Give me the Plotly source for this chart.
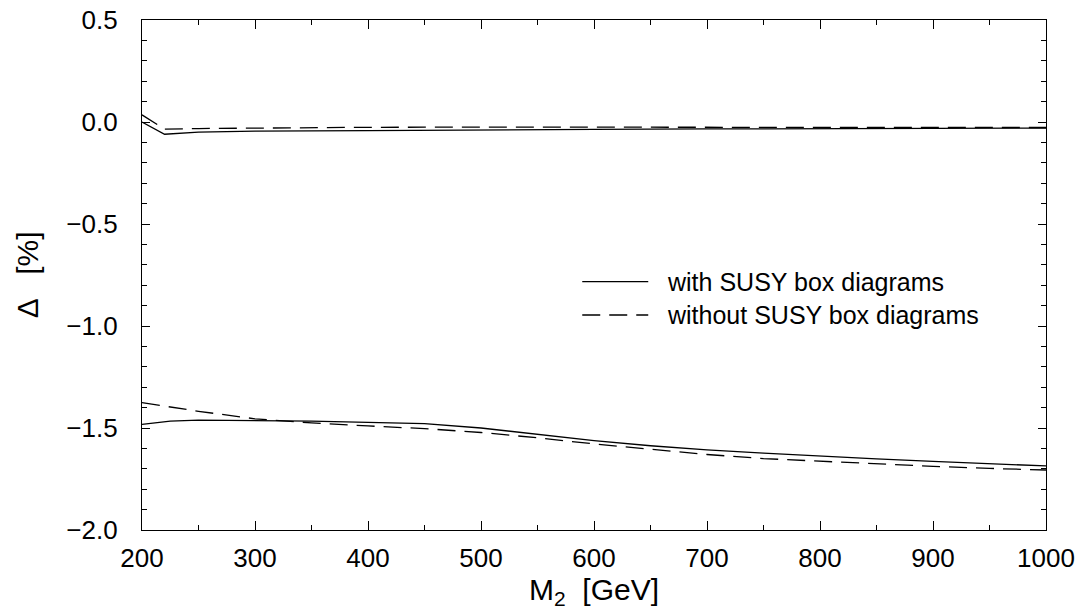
import plotly.graph_objects as go

# M2 grid [GeV] and Delta [%] for the upper pair of curves
m2_up = [200, 220, 250, 300, 400, 500, 600, 700, 800, 900, 1000]
with_box_up = [0.000, -0.060, -0.050, -0.045, -0.042, -0.038, -0.036, -0.034, -0.032, -0.031, -0.030]
without_box_up = [0.035, -0.035, -0.032, -0.029, -0.026, -0.025, -0.025, -0.025, -0.026, -0.026, -0.027]

# M2 grid [GeV] and Delta [%] for the lower pair of curves
m2_low = [200, 225, 250, 300, 350, 400, 450, 500, 550, 600, 650, 700, 750, 800, 850, 900, 950, 1000]
with_box_low = [-1.482, -1.466, -1.461, -1.462, -1.466, -1.472, -1.479, -1.500, -1.532, -1.562,
                -1.587, -1.607, -1.623, -1.638, -1.651, -1.664, -1.676, -1.686]
without_box_low = [-1.376, -1.398, -1.418, -1.455, -1.475, -1.490, -1.503, -1.522, -1.548, -1.578,
                   -1.603, -1.630, -1.650, -1.663, -1.675, -1.688, -1.698, -1.706]

legend_labels = ["with SUSY box diagrams", "without SUSY box diagrams"]
x_title = "M<sub>2</sub>  [GeV]"
y_title = "Δ   [%]"

FONT = "Liberation Sans, Arial, Helvetica, sans-serif"
DASH = "18px,9px"
LW = 1.3

fig = go.Figure()
for x, y, dash in [(m2_up, with_box_up, "solid"), (m2_up, without_box_up, DASH),
                   (m2_low, with_box_low, "solid"), (m2_low, without_box_low, DASH)]:
    fig.add_trace(go.Scatter(x=x, y=y, mode="lines", showlegend=False,
                             line=dict(color="black", width=LW, dash=dash)))

# hand-drawn legend keys inside the plotting area
leg_y = [0.487, 0.4216]
for yy, dash, label in zip(leg_y, ["solid", DASH], legend_labels):
    fig.add_shape(type="line", xref="paper", yref="paper", x0=0.487, x1=0.560, y0=yy, y1=yy,
                  line=dict(color="black", width=LW, dash=dash))
    fig.add_annotation(xref="paper", yref="paper", x=0.5788, y=yy, text=label, showarrow=False,
                       xanchor="left", yanchor="middle", font=dict(family=FONT, size=25, color="black"))

# axis titles placed as free annotations
fig.add_annotation(xref="paper", yref="paper", x=0.5, y=-0.121, text=x_title, showarrow=False,
                   xanchor="center", yanchor="middle", font=dict(family=FONT, size=30, color="black"))
fig.add_annotation(xref="paper", yref="paper", x=-0.127, y=0.5, text=y_title, showarrow=False,
                   textangle=-90, xanchor="center", yanchor="middle",
                   font=dict(family=FONT, size=30, color="black"))

axis_common = dict(
    showgrid=False, zeroline=False, showline=True, linecolor="black", linewidth=1.3,
    mirror="allticks", ticks="inside", tickcolor="black", tickwidth=1,
    tickfont=dict(family=FONT, size=26, color="black"), automargin=False,
)

fig.update_xaxes(
    range=[200, 1000], dtick=100, ticklen=9,
    minor=dict(ticks="inside", dtick=50, ticklen=5, tickcolor="black", tickwidth=1),
    ticklabelstandoff=5,
    **axis_common,
)
fig.update_yaxes(
    range=[-2.0, 0.5], dtick=0.5, tickformat=".1f", ticklen=8,
    minor=dict(ticks="inside", dtick=0.1, ticklen=5, tickcolor="black", tickwidth=1),
    ticklabelstandoff=18,
    **axis_common,
)

fig.update_layout(
    width=1081, height=609,
    margin=dict(l=141.7, r=35.3, t=19.5, b=79, pad=0),
    paper_bgcolor="white", plot_bgcolor="white",
    showlegend=False,
)

fig.write_html("out.html")
